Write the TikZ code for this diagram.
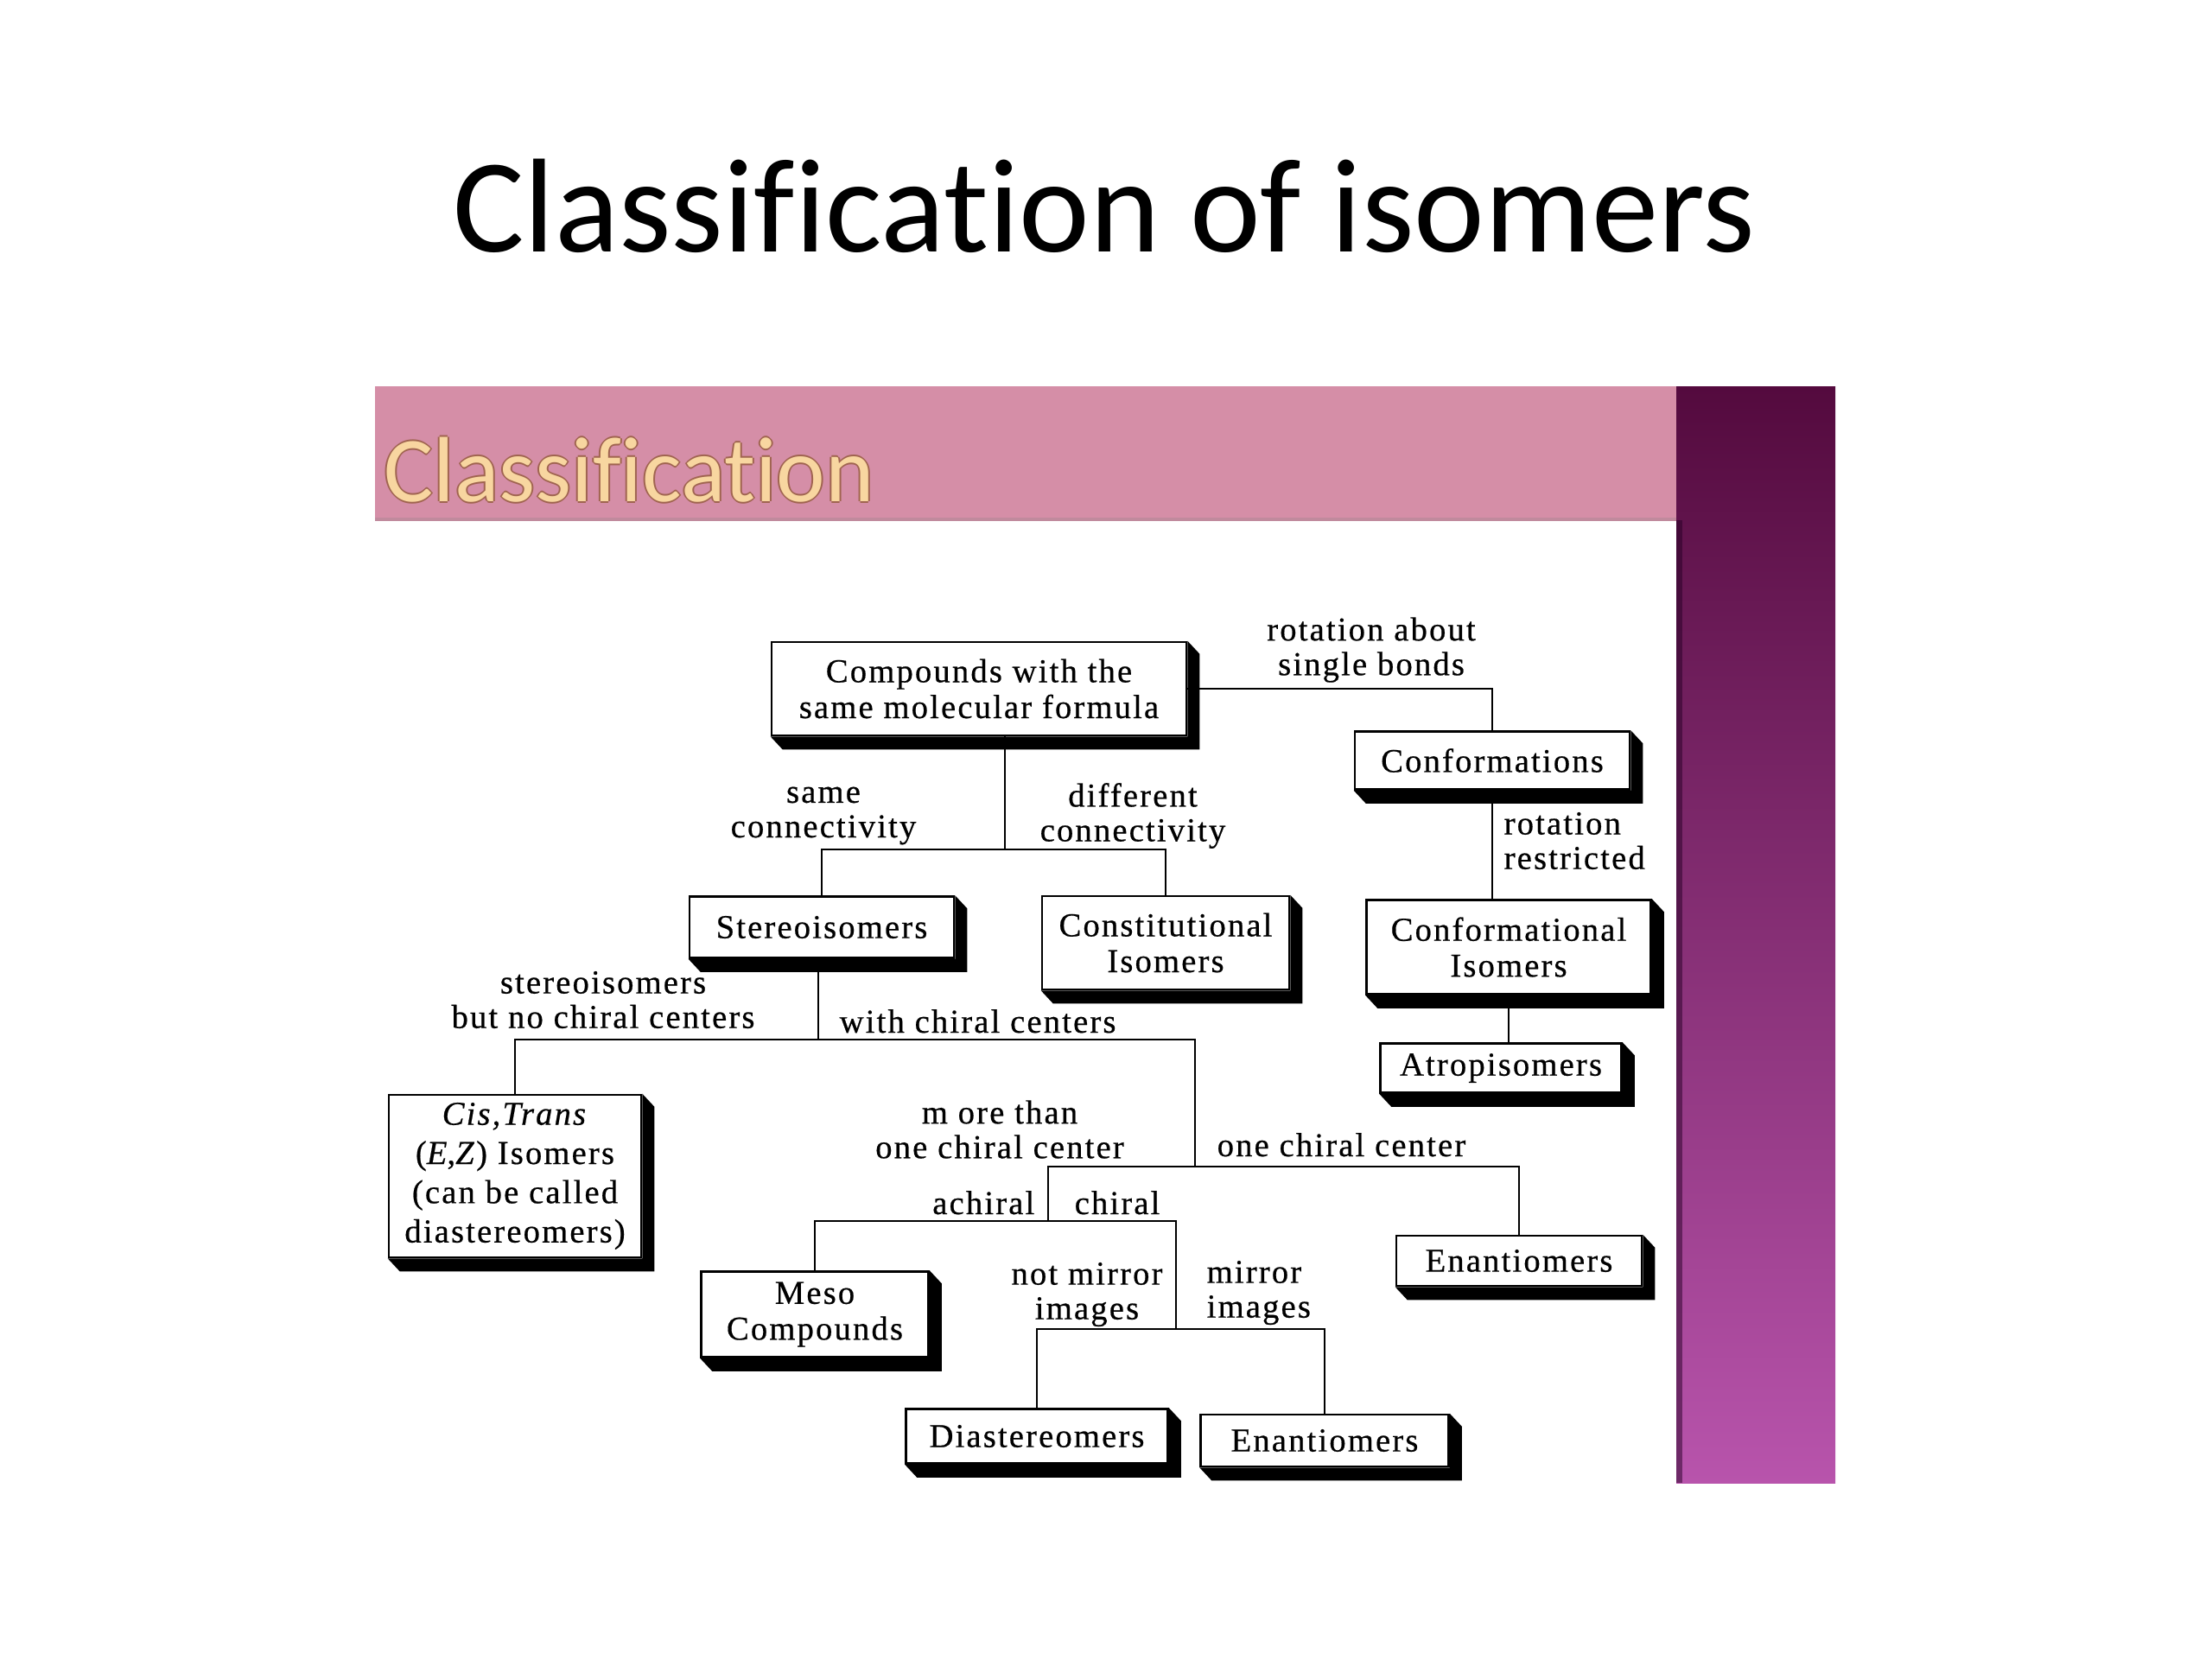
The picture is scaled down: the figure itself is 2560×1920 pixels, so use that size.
\documentclass[tikz,border=0pt]{standalone}
\usepackage{fontspec}
\setmainfont{Liberation Serif}
\newfontfamily\titlefont[Ligatures=NoCommon]{Carlito}
\newfontfamily\diagfont[LetterSpace=5.5, FakeBold=0.5]{Liberation Serif}
\definecolor{hdpink}{RGB}{213,142,167}
\definecolor{hdfill}{RGB}{248,214,160}
\definecolor{hdedge}{RGB}{160,100,80}
\definecolor{bartop}{RGB}{84,10,62}
\definecolor{barbot}{RGB}{184,84,172}
\tikzset{
	isobox/.style={draw, line width=0.7pt, fill=white, inner sep=0pt, align=center,
		font=\diagfont\fontsize{11}{11.8}\selectfont},
	lbl/.style={inner sep=0pt, align=center, font=\diagfont\fontsize{11}{11.4}\selectfont},
	link/.style={line width=0.6pt},
	hdtext/.style={inner sep=0pt, font=\titlefont\fontsize{30.5}{33}\selectfont},
}
% 3d shadow below and right of a box
\newcommand\isoshadow[1]{%
	\fill (#1.north east) -- ([shift={(14,15)}]#1.north east) -- ([shift={(14,15)}]#1.south east)
		-- ([shift={(14,15)}]#1.south west) -- (#1.south west) -- (#1.south east) -- cycle;}
\begin{document}
\begin{tikzpicture}[x=0.01cm, y=-0.01cm]
	\useasboundingbox (0,0) rectangle (2560,1920);
	\fill[white] (0,0) rectangle (2560,1920);
	% slide
	\node[font=\titlefont\fontsize{44}{50}\selectfont, anchor=base, inner sep=0pt] (title) at (1278,291) {Classification of isomers};
	\fill[hdpink] (434,447) rectangle (1946,602);
	\draw[hdpink!75!gray, line width=1pt] (434,601) -- (1946,601);
	\shade[top color=bartop, bottom color=barbot] (1940,447) rectangle (2124,1716);
	\fill[black!70!violet, opacity=0.5] (1940,602) rectangle (1947,1716);
	\foreach \dx/\dy in {-2/0, 2/0, 0/-2, 0/2}
		\node[hdtext, text=hdedge, anchor=base west] at (444+\dx,580+\dy) {Classification};
	\node[hdtext, text=hdfill, anchor=base west] (hdr) at (444,580) {Classification};

	% boxes
	\node[isobox, minimum width=4.80cm, minimum height=1.08cm] (cmpd) at (1133,797) {Compounds with the\\same molecular formula};
	\node[isobox, minimum width=3.18cm, minimum height=0.67cm] (conf) at (1727,880) {Conformations};
	\node[isobox, minimum width=3.29cm, minimum height=1.09cm] (confiso) at (1746,1096) {Conformational\\Isomers};
	\node[isobox, minimum width=2.79cm, minimum height=0.57cm] (atrop) at (1737,1236) {Atropisomers};
	\node[isobox, minimum width=3.06cm, minimum height=0.71cm] (stereo) at (951,1073) {Stereoisomers};
	\node[isobox, minimum width=2.86cm, minimum height=1.08cm] (const) at (1349,1091) {Constitutional\\Isomers};
	\node[isobox, minimum width=2.92cm, minimum height=1.88cm, font=\diagfont\fontsize{11}{12.9}\selectfont] (cistrans) at (596,1361)
		{\textit{Cis,Trans}\\(\textit{E},\textit{Z}) Isomers\\(can be called\\diastereomers)};
	\node[isobox, minimum width=2.63cm, minimum height=0.99cm] (meso) at (943,1521) {Meso\\Compounds};
	\node[isobox, minimum width=2.84cm, minimum height=0.58cm] (enanR) at (1758,1459) {Enantiomers};
	\node[isobox, minimum width=3.03cm, minimum height=0.63cm] (diast) at (1200,1662) {Diastereomers};
	\node[isobox, minimum width=2.87cm, minimum height=0.60cm] (enanB) at (1533,1667) {Enantiomers};
	\foreach \n in {cmpd, conf, confiso, atrop, stereo, const, cistrans, meso, enanR, diast, enanB}
		\isoshadow{\n};

	% branch points
	\coordinate (j1) at (1163,983);
	\coordinate (j2) at (947,1203);
	\coordinate (j3) at (1383,1350);
	\coordinate (j4) at (1213,1413);
	\coordinate (j5) at (1361,1538);

	% connectors
	\draw[link] (cmpd.east) -| (conf.north);
	\draw[link] (conf.south) -- (conf.south |- confiso.north);
	\draw[link] (confiso.south) -- (confiso.south |- atrop.north);
	\draw[link] (cmpd.south -| j1) -- (j1);
	\draw[link] (stereo.north) |- (j1) -| (const.north);
	\draw[link] (stereo.south -| j2) -- (j2);
	\draw[link] (cistrans.north) |- (j2) -| (j3);
	\draw[link] (j4) |- (j3) -| (enanR.north);
	\draw[link] (meso.north) |- (j4) -| (j5);
	\draw[link] (diast.north) |- (j5) -| (enanB.north);

	% labels
	\node[lbl] (rotabout) at (1587,752) {rotation about\\single bonds};
	\node[lbl, anchor=west, align=left] (rotrestr) at (1740,973) {rotation\\restricted};
	\node[lbl] (samecon) at (953,944) {same\\connectivity};
	\node[lbl] (diffcon) at (1311,944) {different\\connectivity};
	\node[lbl] (nochiral) at (698,1157) {stereoisomers\\but no chiral centers};
	\node[lbl, anchor=base west] (withchiral) at (971,1195) {with chiral centers};
	\node[lbl] (morethan) at (1157,1307) {m ore than\\one chiral center};
	\node[lbl, anchor=base west] (onechiral) at (1408,1338) {one chiral center};
	\node[lbl, anchor=base east] (achiral) at (1198,1405) {achiral};
	\node[lbl, anchor=base west] (chiral) at (1243,1405) {chiral};
	\node[lbl] (notmirror) at (1258,1498) {not mirror\\images};
	\node[lbl, anchor=west, align=left] (mirror) at (1396,1496) {mirror\\images};
\end{tikzpicture}
\end{document}
